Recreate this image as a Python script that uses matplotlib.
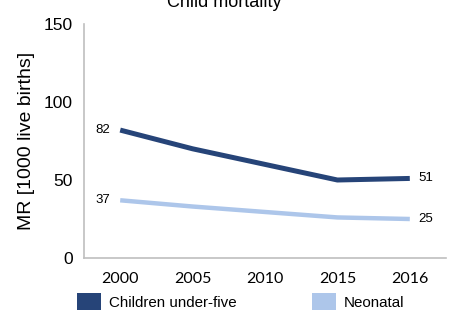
import matplotlib
matplotlib.use("Agg")
import matplotlib.pyplot as plt
from matplotlib.patches import Patch

years = ["2000", "2005", "2010", "2015", "2016"]
under_five = [82, 70, 60, 50, 51]
neonatal = [37, 33, 29.5, 26, 25]
series_names = ["Children under-five", "Neonatal"]
colors = ["#264478", "#ADC6EA"]
yticks = [0, 50, 100, 150]

plt.rcParams['font.family'] = ['Liberation Sans', 'DejaVu Sans']

fig = plt.figure(figsize=(4.52, 3.11), dpi=100)
ax = fig.add_axes([84/452, 1-258/311, (446-84)/452, (258-24)/311])

x = list(range(len(years)))
ax.plot(x, under_five, color=colors[0], lw=3.6, solid_capstyle='butt')
ax.plot(x, neonatal, color=colors[1], lw=3.2, solid_capstyle='butt')

ax.set_xlim(-0.5, len(years) - 0.5)
ax.set_ylim(0, 150)
ax.set_yticks(yticks)
ax.set_yticklabels([str(v) for v in yticks], fontsize=12.5)
ax.set_xticks(x)
ax.set_xticklabels(years, fontsize=11.5, family=['Lato', 'DejaVu Sans'])
ax.tick_params(axis='y', length=0, pad=8)
ax.tick_params(axis='x', length=0, pad=10)

for s in ['top', 'right']:
    ax.spines[s].set_visible(False)
for s in ['left', 'bottom']:
    ax.spines[s].set_color('#BFBFBF')
    ax.spines[s].set_linewidth(1.2)

ax.set_ylabel("MR [1000 live births]", fontsize=14, labelpad=6)

for series in (under_five, neonatal):
    ax.annotate(f"{series[0]:g}", (x[0], series[0]), xytext=(-7, 0),
                textcoords='offset points', ha='right', va='center', fontsize=9.5)
    ax.annotate(f"{series[-1]:g}", (x[-1], series[-1]), xytext=(6, 0),
                textcoords='offset points', ha='left', va='center', fontsize=9.5)

fig.text(224/452, 1-7/311, "Child mortality", ha='center', va='baseline', fontsize=13)

handles = [Patch(facecolor=c, edgecolor='none') for c in colors]
fig.legend(handles, series_names, loc='upper left', bbox_to_anchor=(77/452, 1-293/311),
           ncol=2, frameon=False, fontsize=10.9, handlelength=1.6, handleheight=1.4,
           handletextpad=0.5, columnspacing=5.0, borderpad=0, borderaxespad=0)

fig.savefig("out.png", dpi=100)
